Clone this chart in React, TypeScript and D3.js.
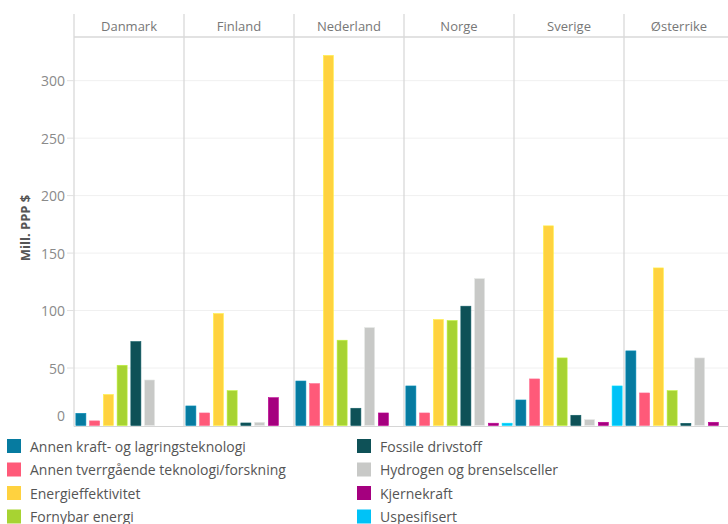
import React from "react";
import * as d3 from "d3";

const countries = ["Danmark", "Finland", "Nederland", "Norge", "Sverige", "Østerrike"];
const categories = [
  "Annen kraft- og lagringsteknologi",
  "Annen tverrgående teknologi/forskning",
  "Energieffektivitet",
  "Fornybar energi",
  "Fossile drivstoff",
  "Hydrogen og brenselsceller",
  "Kjernekraft",
  "Uspesifisert",
];
const colors = ["#067ba0", "#ff5a79", "#ffd23f", "#a7d332", "#0e5157", "#c8c9c7", "#a5007f", "#00c2f7"];

// values per country, in category order (null = no bar)
const danmark = [10.6, 4, 27, 52.4, 73, 39.6, null, null];
const finland = [17, 10.9, 97.4, 30.3, 2.2, 2.8, 24.2, null];
const nederland = [38.7, 36.4, 322, 74.2, 15, 85.2, 10.9, null];
const norge = [34.4, 10.9, 92.2, 91.3, 103.8, 127.8, 2, 2];
const sverige = [22.2, 40.5, 173.7, 58.8, 8.9, 5.1, 2.8, 34.4];
const osterrike = [64.9, 28.3, 137.1, 30.3, 1.9, 58.8, 2.8, null];
const seriesByCountry = [danmark, finland, nederland, norge, sverige, osterrike];

const yTicks = [0, 50, 100, 150, 200, 250, 300];

const FONT = "'Open Sans', 'Noto Sans', sans-serif";

export default function App() {
  const W = 728, H = 524;
  const panelW = 110;
  const left = 74;
  const headerTop = 14, headerLine = 37, bottom = 425.5;

  const x = d3.scaleBand<string>().domain(countries).range([left, left + panelW * countries.length]).padding(0);
  const inner = d3.scaleBand<string>().domain(categories).range([0, panelW]).paddingInner(0.27).paddingOuter(0.135);
  const y = d3.scaleLinear().domain([0, 338]).range([bottom, headerLine]);

  return (
    <svg width={W} height={H} style={{ position: "absolute", left: 0, top: 0, fontFamily: FONT }}>
      <rect x={0} y={0} width={W} height={H} fill="#fff" />
      {/* gridlines */}
      {yTicks.filter(t => t > 0).map(t => (
        <line key={t} x1={left} x2={W} y1={y(t)} y2={y(t)} stroke="#f0f0f0" strokeWidth={1} />
      ))}
      {/* bars */}
      {countries.map((c, ci) => (
        <g key={c} transform={`translate(${x(c)},0)`}>
          {seriesByCountry[ci].map((v, i) =>
            v == null ? null : (
              <rect
                key={i}
                x={inner(categories[i])}
                y={y(v)}
                width={inner.bandwidth()}
                height={bottom - y(v)}
                fill={colors[i]}
                stroke={d3.color(colors[i])!.brighter(0.4).formatHex()}
                strokeWidth={0.6}
              />
            )
          )}
        </g>
      ))}
      {/* panel dividers */}
      {countries.map(c => (
        <line key={c} x1={x(c)} x2={x(c)} y1={headerTop} y2={bottom + 1} stroke="#d6d6d6" strokeWidth={1.2} />
      ))}
      {/* header line */}
      <line x1={left} x2={W} y1={headerLine} y2={headerLine} stroke="#d9d9d9" strokeWidth={1.6} />
      {/* bottom line */}
      <line x1={left} x2={W} y1={bottom + 1} y2={bottom + 1} stroke="#d6d6d6" strokeWidth={1.2} />
      {/* header labels */}
      {countries.map(c => (
        <text key={c} x={x(c)! + panelW / 2} y={26} textAnchor="middle" dominantBaseline="central" fontSize={13} fill="#777">
          {c}
        </text>
      ))}
      {/* y ticks */}
      {yTicks.map(t => (
        <g key={t}>
          {t > 0 && <line x1={67} x2={left} y1={y(t)} y2={y(t)} stroke="#e0e0e0" />}
          <text x={65} y={t === 0 ? y(t) - 10 : y(t)} textAnchor="end" dominantBaseline="central" fontSize={14} fill="#8a8a8a">
            {t}
          </text>
        </g>
      ))}
      {/* y title */}
      <text transform={`translate(25,228) rotate(-90)`} textAnchor="middle" dominantBaseline="central" fontSize={13} fontWeight={700} fill="#555">
        Mill. PPP $
      </text>
      {/* legend */}
      {categories.map((cat, i) => {
        const col = Math.floor(i / 4);
        const row = i % 4;
        const lx = col === 0 ? 7 : 357;
        const ly = 446 + row * 23.5;
        return (
          <g key={cat}>
            <rect x={lx} y={ly - 7} width={14} height={14} fill={colors[i]} />
            <text x={lx + 23} y={ly} dominantBaseline="central" fontSize={14} fill="#555">
              {cat}
            </text>
          </g>
        );
      })}
    </svg>
  );
}
